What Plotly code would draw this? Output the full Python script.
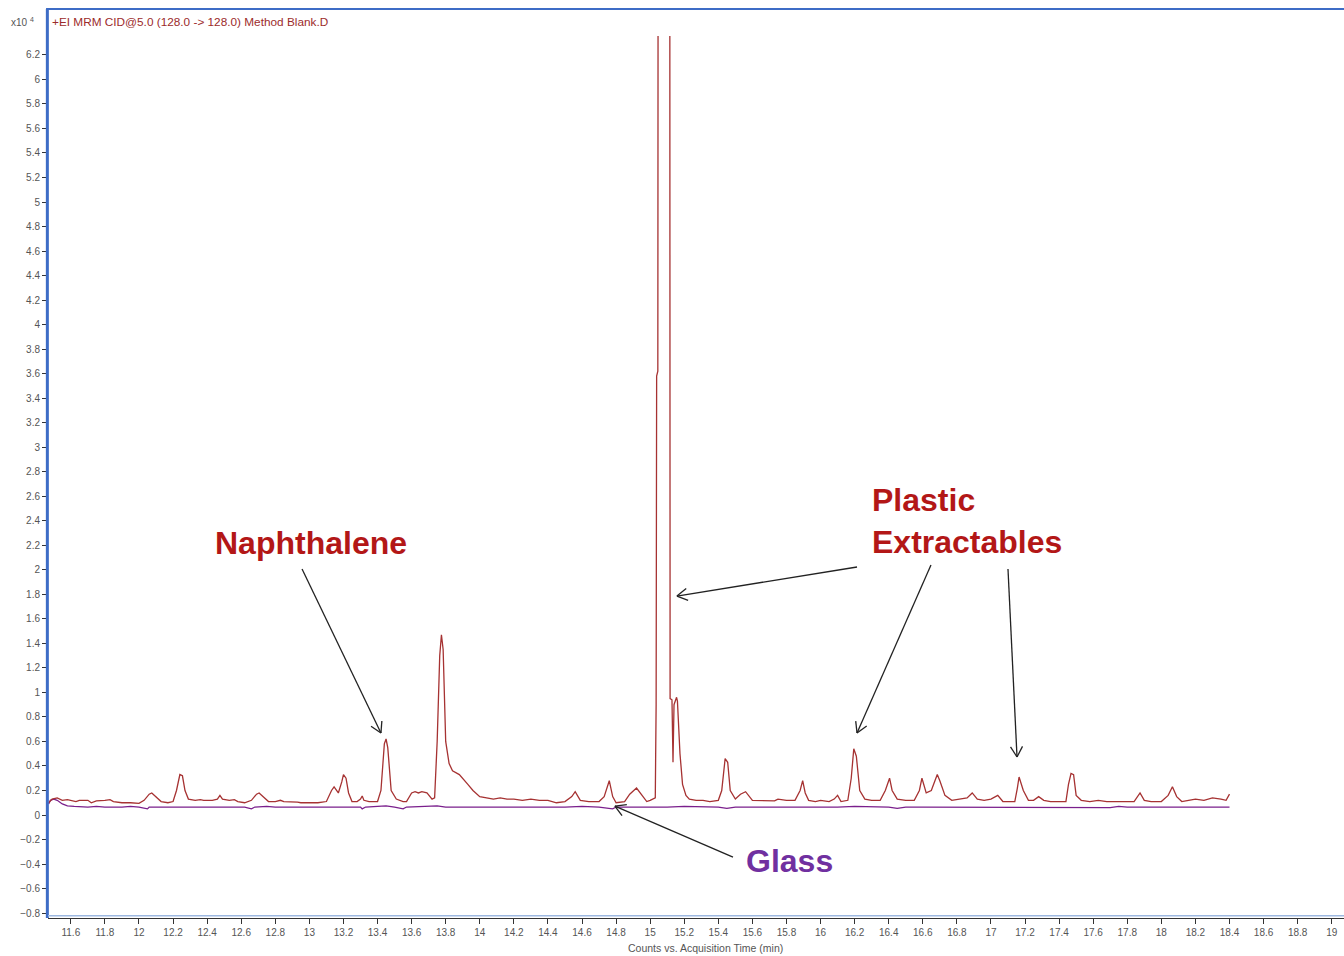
import math
import plotly.graph_objects as go

# Acquisition time (min) and counts (x10^4) for the method blank extracted in plastic
blank_time = [
    11.47, 11.49, 11.52, 11.55, 11.58, 11.60, 11.63, 11.65, 11.70, 11.72, 11.75, 11.80,
    11.83, 11.85, 11.90, 11.95, 12.00, 12.03, 12.06, 12.075, 12.10, 12.13, 12.17, 12.20,
    12.22, 12.24, 12.255, 12.27, 12.29, 12.33, 12.36, 12.38, 12.43, 12.46, 12.475, 12.49,
    12.53, 12.56, 12.58, 12.62, 12.66, 12.69, 12.705, 12.73, 12.76, 12.80, 12.83, 12.85,
    12.90, 12.93, 12.95, 13.00, 13.03, 13.05, 13.10, 13.13, 13.145, 13.17, 13.19, 13.20,
    13.215, 13.23, 13.25, 13.28, 13.30, 13.31, 13.32, 13.35, 13.40, 13.42, 13.44, 13.45,
    13.46, 13.48, 13.51, 13.55, 13.57, 13.60, 13.62, 13.64, 13.66, 13.69, 13.72, 13.735,
    13.75, 13.765, 13.775, 13.785, 13.80, 13.82, 13.84, 13.88, 13.93, 13.96, 14.00, 14.04,
    14.08, 14.12, 14.16, 14.20, 14.25, 14.30, 14.35, 14.40, 14.45, 14.50, 14.54, 14.56,
    14.59, 14.64, 14.70, 14.73, 14.76, 14.78, 14.80, 14.85, 14.88, 14.92, 14.95, 14.98,
    15.00, 15.03, 15.035, 15.038, 15.045, 15.047, 15.115, 15.117, 15.128, 15.134, 15.14,
    15.155, 15.16, 15.175, 15.19, 15.21, 15.23, 15.27, 15.31, 15.35, 15.40, 15.42, 15.44,
    15.455, 15.47, 15.50, 15.53, 15.56, 15.60, 15.65, 15.70, 15.73, 15.75, 15.80, 15.85,
    15.88, 15.895, 15.91, 15.93, 15.97, 16.00, 16.05, 16.08, 16.10, 16.12, 16.16, 16.18,
    16.195, 16.21, 16.23, 16.26, 16.30, 16.35, 16.38, 16.405, 16.42, 16.45, 16.50, 16.55,
    16.58, 16.595, 16.62, 16.65, 16.685, 16.70, 16.73, 16.77, 16.82, 16.86, 16.89, 16.92,
    16.96, 17.00, 17.04, 17.07, 17.11, 17.14, 17.155, 17.165, 17.19, 17.22, 17.25, 17.28,
    17.31, 17.35, 17.40, 17.44, 17.455, 17.47, 17.485, 17.50, 17.53, 17.58, 17.63, 17.68,
    17.73, 17.78, 17.84, 17.875, 17.90, 17.94, 18.00, 18.04, 18.065, 18.09, 18.12, 18.16,
    18.20, 18.25, 18.30, 18.35, 18.38, 18.40,
]
blank_counts = [
    0.10, 0.13, 0.14, 0.12, 0.125, 0.12, 0.11, 0.12, 0.12, 0.10, 0.115, 0.12,
    0.125, 0.11, 0.10, 0.10, 0.095, 0.12, 0.17, 0.18, 0.15, 0.11, 0.10, 0.11,
    0.20, 0.33, 0.32, 0.20, 0.13, 0.12, 0.125, 0.12, 0.12, 0.13, 0.16, 0.13,
    0.12, 0.125, 0.11, 0.10, 0.12, 0.17, 0.18, 0.15, 0.11, 0.11, 0.12, 0.11,
    0.11, 0.105, 0.10, 0.10, 0.095, 0.10, 0.11, 0.20, 0.23, 0.18, 0.27, 0.33,
    0.30, 0.18, 0.11, 0.11, 0.13, 0.155, 0.12, 0.11, 0.11, 0.20, 0.58, 0.62,
    0.55, 0.20, 0.13, 0.11, 0.11, 0.18, 0.19, 0.18, 0.19, 0.18, 0.13, 0.14,
    0.60, 1.30, 1.47, 1.35, 0.60, 0.42, 0.36, 0.33, 0.25, 0.20, 0.15, 0.14,
    0.13, 0.14, 0.13, 0.13, 0.12, 0.13, 0.12, 0.12, 0.10, 0.11, 0.15, 0.19,
    0.12, 0.11, 0.11, 0.15, 0.28, 0.15, 0.10, 0.11, 0.17, 0.22, 0.16, 0.11,
    0.12, 0.14, 0.90, 3.58, 3.62, 8.00, 8.00, 0.95, 0.94, 0.43, 0.90,
    0.96, 0.93, 0.50, 0.25, 0.16, 0.13, 0.12, 0.12, 0.11, 0.12, 0.20, 0.46,
    0.43, 0.20, 0.13, 0.17, 0.19, 0.12, 0.12, 0.12, 0.115, 0.13, 0.12, 0.12,
    0.20, 0.28, 0.18, 0.12, 0.11, 0.12, 0.11, 0.13, 0.16, 0.11, 0.12, 0.30,
    0.54, 0.48, 0.20, 0.13, 0.12, 0.12, 0.20, 0.30, 0.20, 0.13, 0.12, 0.12,
    0.20, 0.30, 0.18, 0.20, 0.33, 0.28, 0.16, 0.12, 0.13, 0.14, 0.18, 0.13,
    0.12, 0.13, 0.16, 0.11, 0.11, 0.11, 0.22, 0.31, 0.20, 0.12, 0.12, 0.15,
    0.12, 0.11, 0.11, 0.11, 0.25, 0.34, 0.33, 0.16, 0.12, 0.11, 0.12, 0.11,
    0.11, 0.11, 0.11, 0.18, 0.12, 0.11, 0.11, 0.16, 0.23, 0.15, 0.11, 0.12,
    0.13, 0.12, 0.14, 0.13, 0.12, 0.17,
]

# Acquisition time (min) and counts (x10^4) for the glass blank
glass_time = [
    11.47, 11.48, 11.50, 11.52, 11.55, 11.58, 11.62, 11.70, 11.75, 11.80, 11.90, 11.95,
    12.00, 12.05, 12.06, 12.15, 12.20, 12.25, 12.35, 12.45, 12.50, 12.55, 12.62, 12.66,
    12.68, 12.75, 12.80, 12.90, 13.00, 13.10, 13.20, 13.30, 13.31, 13.33, 13.40, 13.45,
    13.50, 13.55, 13.57, 13.65, 13.75, 13.80, 13.90, 14.00, 14.10, 14.20, 14.30, 14.40,
    14.45, 14.50, 14.60, 14.70, 14.78, 14.80, 14.90, 15.00, 15.05, 15.10, 15.20, 15.30,
    15.40, 15.45, 15.50, 15.60, 15.70, 15.80, 15.90, 16.00, 16.10, 16.20, 16.30, 16.40,
    16.45, 16.50, 16.60, 16.70, 16.80, 16.90, 17.00, 17.10, 17.20, 17.30, 17.40, 17.50,
    17.60, 17.70, 17.75, 17.80, 17.90, 18.00, 18.10, 18.20, 18.30, 18.40,
]
glass_counts = [
    0.09, 0.12, 0.13, 0.12, 0.09, 0.075, 0.07, 0.065, 0.07, 0.065, 0.065, 0.07,
    0.065, 0.05, 0.065, 0.065, 0.06, 0.065, 0.065, 0.065, 0.06, 0.065, 0.065, 0.05,
    0.065, 0.07, 0.065, 0.065, 0.065, 0.065, 0.065, 0.065, 0.05, 0.065, 0.07, 0.075,
    0.065, 0.05, 0.065, 0.07, 0.075, 0.065, 0.065, 0.065, 0.06, 0.065, 0.065, 0.06,
    0.065, 0.065, 0.07, 0.065, 0.05, 0.065, 0.065, 0.065, 0.06, 0.065, 0.07, 0.065,
    0.065, 0.055, 0.065, 0.065, 0.065, 0.06, 0.065, 0.065, 0.065, 0.07, 0.065, 0.065,
    0.055, 0.065, 0.065, 0.065, 0.06, 0.065, 0.065, 0.065, 0.065, 0.06, 0.065, 0.065,
    0.065, 0.06, 0.07, 0.065, 0.065, 0.065, 0.06, 0.065, 0.065, 0.065,
]

title_text = "+EI MRM CID@5.0 (128.0 -> 128.0) Method Blank.D"
x_title = "Counts vs. Acquisition Time (min)"

RED = "#a63232"
PURPLE = "#7a1f8c"
LABEL_RED = "#b31717"
LABEL_PURPLE = "#7030a0"
FRAME_BLUE = "#3d6cc6"
ARROW = "#222222"
FONT = "Liberation Sans, Arial, sans-serif"

# Figure geometry
W, H = 1344, 956
ML, MR, MT, MB = 48, 0, 36, 38
X_RANGE = [11.466, 19.072]
Y_RANGE = [-0.840, 6.354]
PW, PH = W - ML - MR, H - MT - MB


def to_px(t, v):
    px = (t - X_RANGE[0]) / (X_RANGE[1] - X_RANGE[0]) * PW
    py = (Y_RANGE[1] - v) / (Y_RANGE[1] - Y_RANGE[0]) * PH
    return px, py


def to_data(px, py):
    t = X_RANGE[0] + px / PW * (X_RANGE[1] - X_RANGE[0])
    v = Y_RANGE[1] - py / PH * (Y_RANGE[1] - Y_RANGE[0])
    return t, v


fig = go.Figure()
fig.add_trace(go.Scatter(x=glass_time, y=glass_counts, mode="lines",
                         line=dict(color=PURPLE, width=1.3), name="Glass"))
fig.add_trace(go.Scatter(x=blank_time, y=blank_counts, mode="lines",
                         line=dict(color=RED, width=1.3), name="Plastic"))

# Text labels
label_font = dict(family=FONT, size=32, color=LABEL_RED)
annotations = [
    dict(x=13.009, y=2.22, xref="x", yref="y", text="<b>Naphthalene</b>",
         showarrow=False, font=label_font),
    dict(x=16.292, y=2.40, xref="x", yref="y", text="<b>Plastic<br>Extractables</b>",
         showarrow=False, xanchor="left", align="left", font=label_font),
    dict(x=15.82, y=-0.375, xref="x", yref="y", text="<b>Glass</b>",
         showarrow=False, font=dict(family=FONT, size=32, color=LABEL_PURPLE)),
]

# Thin arrows with open V heads, from label (tail) to peak (head)
arrows = [
    ((12.957, 2.006), (13.42, 0.669)),
    ((16.214, 2.023), (15.157, 1.786)),
    ((16.648, 2.039), (16.214, 0.669)),
    ((17.10, 2.006), (17.153, 0.473)),
    ((15.486, -0.343), (14.793, 0.073)),
]
shapes = []
arrow_line = dict(color=ARROW, width=1.3)
for (tx, ty), (hx, hy) in arrows:
    shapes.append(dict(type="line", xref="x", yref="y", x0=tx, y0=ty, x1=hx, y1=hy,
                       line=arrow_line))
    tpx, tpy = to_px(tx, ty)
    hpx, hpy = to_px(hx, hy)
    ang = math.atan2(tpy - hpy, tpx - hpx)
    for side in (-1, 1):
        a = ang + side * math.radians(30)
        ex, ey = to_data(hpx + 12 * math.cos(a), hpy + 12 * math.sin(a))
        shapes.append(dict(type="line", xref="x", yref="y", x0=hx, y0=hy, x1=ex, y1=ey,
                           line=arrow_line))

# Header text above the plot area and axis caption
annotations += [
    dict(x=0.0015, y=1.0155, xref="paper", yref="paper", text=title_text,
         showarrow=False, xanchor="left", yanchor="middle",
         font=dict(family=FONT, size=11.8, color="#9c2b2b")),
    dict(x=-0.009, y=1.0155, xref="paper", yref="paper", text="x10 <sup>4</sup>",
         showarrow=False, xanchor="right", yanchor="middle",
         font=dict(family=FONT, size=10, color="#555555")),
    dict(x=0.507, y=-0.034, xref="paper", yref="paper", text=x_title,
         showarrow=False, xanchor="center", yanchor="middle",
         font=dict(family=FONT, size=10.5, color="#555555")),
]

# Blue frame on the left, top and bottom of the plot area
shapes += [
    dict(type="line", xref="paper", yref="paper", x0=-0.0005, x1=-0.0005, y0=0, y1=1.0306,
         line=dict(color=FRAME_BLUE, width=3)),
    dict(type="line", xref="paper", yref="paper", x0=-0.0015, x1=1.0, y0=1.0306, y1=1.0306,
         line=dict(color=FRAME_BLUE, width=2)),
    dict(type="line", xref="paper", yref="paper", x0=0, x1=1.0, y0=0.0025, y1=0.0025,
         line=dict(color="#9db8e0", width=1.5)),
]

fig.update_layout(
    width=W, height=H,
    margin=dict(l=ML, r=MR, t=MT, b=MB),
    paper_bgcolor="white", plot_bgcolor="white",
    showlegend=False,
    annotations=annotations,
    shapes=shapes,
    font=dict(family=FONT, size=10, color="#555555"),
    xaxis=dict(range=X_RANGE, tick0=11.6, dtick=0.2, showgrid=False,
               zeroline=False, showline=True, linecolor="#333333", linewidth=1,
               ticks="outside", ticklen=5, tickcolor="#333333",
               tickfont=dict(family=FONT, size=10, color="#555555")),
    yaxis=dict(range=Y_RANGE, tick0=0, dtick=0.2, showgrid=False,
               zeroline=False, showline=False,
               ticks="outside", ticklen=5, tickcolor="#333333",
               tickfont=dict(family=FONT, size=10, color="#555555")),
)

fig.write_html("out.html")
